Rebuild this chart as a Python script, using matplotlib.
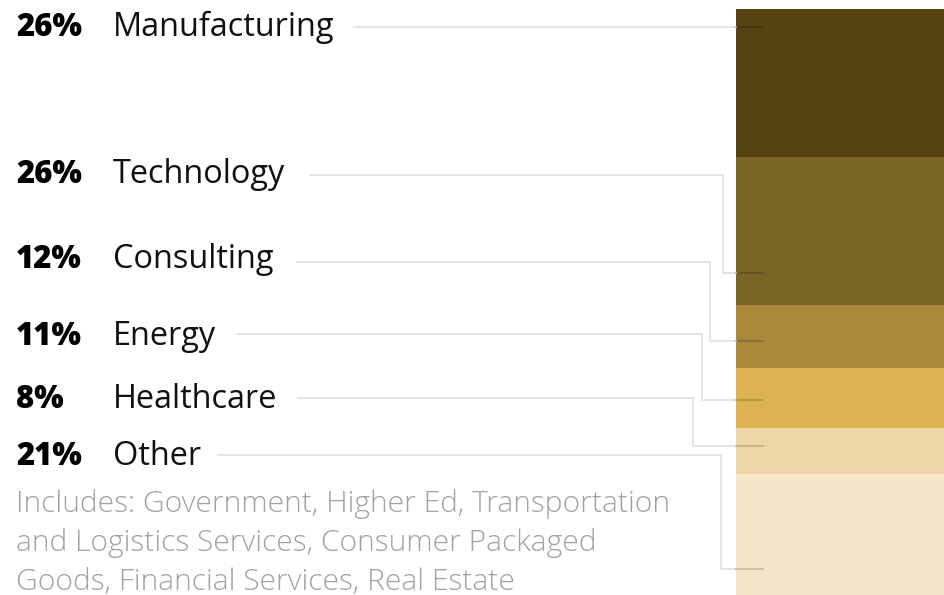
import matplotlib
matplotlib.use("Agg")
import numpy as np
import matplotlib.pyplot as plt

plt.rcParams["font.family"] = ["Open Sans", "DejaVu Sans"]

# data
categories = ["Manufacturing", "Technology", "Consulting", "Energy", "Healthcare", "Other"]
pct_labels = ["26%", "26%", "12%", "11%", "8%", "21%"]
# segment sizes as drawn in the bar (percent of bar height)
shares = [25.3, 25.3, 10.8, 10.1, 8.0, 20.6]
footnote = ["Includes: Government, Higher Ed, Transportation",
            "and Logistics Services, Consumer Packaged",
            "Goods, Financial Services, Real Estate"]

colors = ["#554312", "#7b6428", "#a8893c", "#ddb352", "#edd7a6", "#f5e6c8"]

W, H = 944, 595
fig = plt.figure(figsize=(W / 100, H / 100), dpi=100)
renderer = fig.canvas.get_renderer()


def fit_size(txt, width_px, weight="normal", start=20):
    # font size that makes txt about width_px wide
    t = fig.text(0, 0, txt, fontsize=start, fontweight=weight)
    w = t.get_window_extent(renderer).width
    t.remove()
    return start * width_px / w


# stacked bar on the right
bx = fig.add_axes([736 / W, 0, 208 / W, (595 - 9) / H])
bottoms = np.concatenate([[0], np.cumsum(shares)[:-1]])
bx.bar(0, shares, bottom=bottoms, width=1, color=colors, linewidth=0)
bx.set_xlim(-0.5, 0.5)
bx.set_ylim(sum(shares), 0)
bx.axis("off")

# label / connector layer in pixel coordinates
ax = fig.add_axes([0, 0, 1, 1], facecolor="none")
ax.set_xlim(0, W)
ax.set_ylim(H, 0)
ax.axis("off")

label_size = fit_size("Manufacturing", 222)
pct_size = fit_size("26%", 66, "heavy")
note_size = fit_size(footnote[0], 655, "light")

baseline = [36, 183, 268, 345, 408, 465]
line_y = [27, 175, 262, 334, 398, 455]
line_start = [354, 310, 297, 237, 298, 218]
elbow_x = [None, 723, 710, 702, 693, 721]
target_y = [27, 273, 341, 400, 446, 569]
bar_left, line_end = 736, 763

for i, cat in enumerate(categories):
    ax.text(16, baseline[i], pct_labels[i], fontsize=pct_size, fontweight="heavy",
            color="#000000", va="baseline", ha="left")
    ax.text(113, baseline[i], cat, fontsize=label_size, color="#111111",
            va="baseline", ha="left")
    y = line_y[i]
    if elbow_x[i] is None:
        xs = [line_start[i], bar_left]
        ys = [y, y]
    else:
        xs = [line_start[i], elbow_x[i], elbow_x[i], bar_left]
        ys = [y, y, target_y[i], target_y[i]]
    ax.plot(xs, ys, color="#e2e2e2", lw=1.3, solid_joinstyle="miter")
    ax.plot([bar_left, line_end], [target_y[i], target_y[i]],
            color="#000000", alpha=0.18, lw=1.3)

for j, line in enumerate(footnote):
    ax.text(16, 512 + j * 39, line, fontsize=note_size, fontweight="light",
            color="#a2a2a2", va="baseline", ha="left")

fig.savefig("out.png", dpi=100)
